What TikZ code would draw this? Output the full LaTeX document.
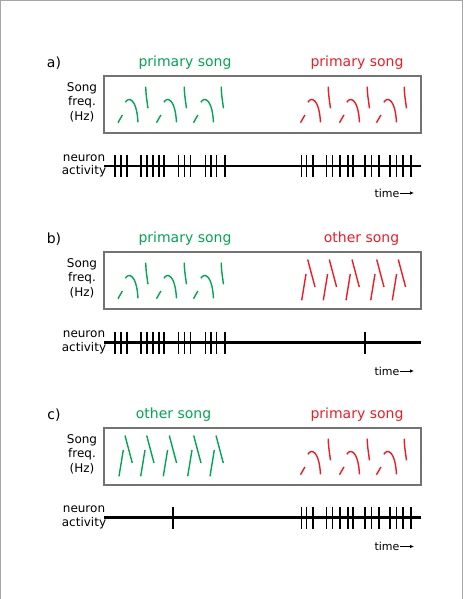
\documentclass[tikz,border=0pt]{standalone}
\usepackage{fontspec}
\setmainfont{DejaVu Sans}
\usetikzlibrary{arrows.meta}
\definecolor{songgreen}{RGB}{0,166,81}
\definecolor{songred}{RGB}{237,28,36}

% one primary-song syllable group, origin at the box's top
\newcommand{\primarymotif}[2]{%
  \begin{scope}[shift={(#1,76)}]
    \draw[syl,#2] (0,46.7) .. controls (1.3,43) .. (4.4,39);
    \draw[syl,#2] (7.4,26.3) .. controls (10,21) and (18.5,21) .. (20,46.3);
    \draw[syl,#2] (27.7,10.7) .. controls (28,18) .. (30,32.3);
  \end{scope}}
% one other-song syllable pair
\newcommand{\othermotif}[2]{%
  \begin{scope}[shift={(#1,76)}]
    \draw[syl,#2] (0,48.3) .. controls (1.5,35) .. (4.3,22);
    \draw[syl,#2] (6,7.5) .. controls (8.5,17) .. (13.3,35);
  \end{scope}}

\begin{document}
\begin{tikzpicture}[
  x=1pt, y=-1pt,
  panellbl/.style={font=\fontsize{14}{16}\selectfont, inner sep=0pt},
  songtitle/.style={font=\fontsize{14}{16}\selectfont, inner sep=0pt},
  axislbl/.style={font=\fontsize{12}{14.5}\selectfont, align=center, inner sep=0pt},
  nrnlbl/.style={font=\fontsize{12}{13.3}\selectfont, align=center, inner sep=0pt},
  timelbl/.style={font=\fontsize{11}{13}\selectfont, inner sep=0pt},
  songbox/.style={draw=black!55, line width=1.3pt},
  nline/.style={line width=2.6pt},
  spike/.style={line width=1.9pt},
  syl/.style={line width=1.4pt},
  tarrow/.style={-{Latex[length=4pt,width=3.6pt]}, line width=1pt},
]
\useasboundingbox (0,0) rectangle (463,599);
\draw[black!35, line width=1pt] (0.5,599) -- (0.5,0.5) -- (462.5,0.5) -- (462.5,599);

% a)
\begin{scope}
  \node[panellbl] (la) at (54,63) {a)};
  \node[songtitle, text=songgreen] (ga) at (185,63) {primary song};
  \node[songtitle, text=songred] (ra) at (357,63) {primary song};
  \node[axislbl] (fa) at (82,102) {Song\\freq.\\(Hz)};
  \draw[songbox] (104,76) rectangle (421,133);
  \foreach \x in {118,156.5,193.5} \primarymotif{\x}{songgreen};
  \foreach \x in {300.5,339.5,376.5} \primarymotif{\x}{songred};
  \node[nrnlbl] (na) at (84,166) {neuron\\activity};
  \draw[nline] (104,166) -- (421,166);
  \foreach \x in {115,121,127,141,147,153,159,164,178.5,184.5,190.5,205.5,211,216.5,225,
                  301.5,306.5,313,326.5,332.5,340,348,353,365,371.5,379,390,396.5,403,411}
    \draw[spike] (\x,155) -- (\x,177);
  \node[timelbl] (ta) at (387,193) {time};
  \coordinate (tae) at (414,193);
  \draw[tarrow] (ta.east) -- (tae);
\end{scope}

% b)
\begin{scope}[shift={(0,176)}]
  \node[panellbl] (lb) at (54,63) {b)};
  \node[songtitle, text=songgreen] (gb) at (185,63) {primary song};
  \node[songtitle, text=songred] (rb) at (361.5,63) {other song};
  \node[axislbl] (fb) at (82,102) {Song\\freq.\\(Hz)};
  \draw[songbox] (104,76) rectangle (421,133);
  \foreach \x in {118,156.5,193.5} \primarymotif{\x}{songgreen};
  \foreach \x in {301.7,323.3,346,370.7,392.3} \othermotif{\x}{songred};
  \node[nrnlbl] (nb) at (84,166.5) {neuron\\activity};
  \draw[nline] (104,166.5) -- (421,166.5);
  \foreach \x in {115,121,127,141,147,153,159,164,178.5,184.5,190.5,205.5,211,216.5,225,365}
    \draw[spike] (\x,155.5) -- (\x,177.5);
  \node[timelbl] (tb) at (387,195) {time};
  \coordinate (tbe) at (414,195);
  \draw[tarrow] (tb.east) -- (tbe);
\end{scope}

% c)
\begin{scope}[shift={(0,352)}]
  \node[panellbl] (lc) at (54,63) {c)};
  \node[songtitle, text=songgreen] (gc) at (173.5,63) {other song};
  \node[songtitle, text=songred] (rc) at (357,63) {primary song};
  \node[axislbl] (fc) at (82,102) {Song\\freq.\\(Hz)};
  \draw[songbox] (104,76) rectangle (421,133);
  \foreach \x in {119,140.7,163.3,187.7,210} \othermotif{\x}{songgreen};
  \foreach \x in {300.5,339.5,376.5} \primarymotif{\x}{songred};
  \node[nrnlbl] (nc) at (84,165.5) {neuron\\activity};
  \draw[nline] (104,165.5) -- (421,165.5);
  \foreach \x in {173.3,301.5,306.5,313,326.5,332.5,340,348,353,365,371.5,379,390,396.5,403,411}
    \draw[spike] (\x,154.5) -- (\x,176.5);
  \node[timelbl] (tc) at (387,194.5) {time};
  \coordinate (tce) at (414,194.5);
  \draw[tarrow] (tc.east) -- (tce);
\end{scope}

\end{tikzpicture}
\end{document}
